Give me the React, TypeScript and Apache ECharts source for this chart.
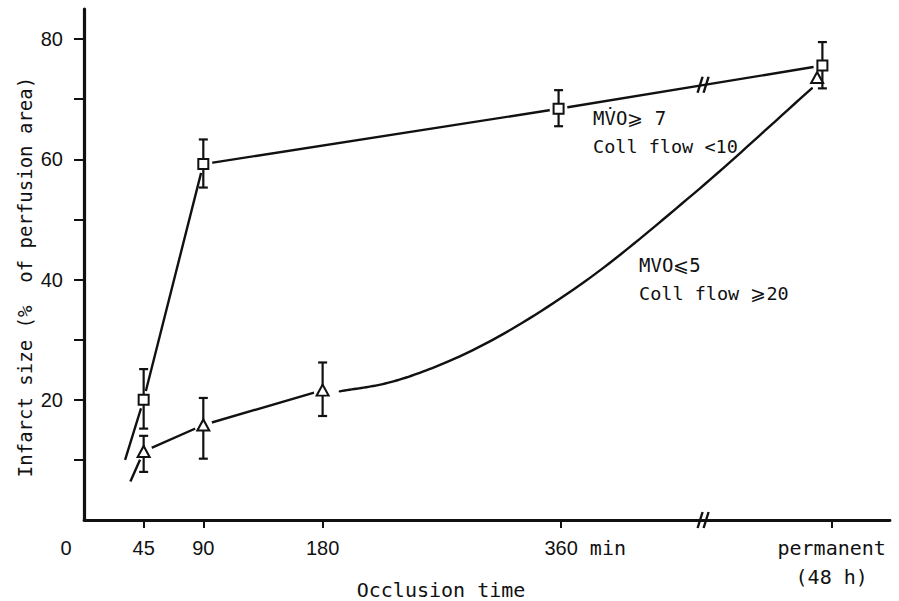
import React, { useEffect, useRef } from "react";
import * as echarts from "echarts";

const MONO = '"DejaVu Sans Mono", "Liberation Mono", monospace';
const NUM = '"Liberation Sans", "DejaVu Sans", sans-serif';
const INK = "#111111";

// x positions in minutes; "permanent" is plotted beyond the axis break
const xTickValues = [45, 90, 180, 360, 564];
const xLabelValues = [0, 45, 90, 180, 360, 564];
const xLabelTexts: Record<number, string> = {
  0: "{z|0}",
  45: "{n|45}",
  90: "{n|90}",
  180: "{n|180}",
  360: "{m|360}{w| min}",
  564: "{w|permanent}\n{p|(48 h)}",
};
const yTickValues = [10, 20, 30, 40, 50, 60, 70, 80];
const yLabelValues = [20, 40, 60, 80];

// MVO >= 7, coll flow < 10 (squares)
const sqX = [45, 90, 358, 557];
const sqY = [20, 59.2, 68.4, 75.6];
const sqLo = [15.2, 55.3, 65.5, 71.8];
const sqHi = [25.1, 63.3, 71.5, 79.5];
const sqLineStart = [31, 10];

// MVO <= 5, coll flow >= 20 (triangles)
const triX = [45, 90, 180, 553];
const triY = [11.4, 15.8, 21.6, 73.6];
const triLo = [8.0, 10.2, 17.3];
const triHi = [14.0, 20.3, 26.2];
const triLineStart = [35, 6.4];
const triCurveX = [193, 229, 274, 369, 460, 549];
const triCurveY = [21.4, 22.8, 26.3, 38.3, 54.3, 71.8];

// axis / line break marks
const breaks = [
  [467, 72.4],
  [467, 0],
];

// smooth Hermite curve through pixel points
function smoothPath(pts: number[][]): number[][] {
  const n = pts.length;
  const h: number[] = [];
  const d: number[] = [];
  for (let i = 0; i < n - 1; i++) {
    h.push(pts[i + 1][0] - pts[i][0]);
    d.push((pts[i + 1][1] - pts[i][1]) / h[i]);
  }
  const m: number[] = [];
  for (let i = 0; i < n; i++) {
    if (i === 0) m.push(d[0]);
    else if (i === n - 1) m.push(d[n - 2]);
    else m.push((d[i - 1] * h[i] + d[i] * h[i - 1]) / (h[i - 1] + h[i]));
  }
  const out: number[][] = [];
  for (let i = 0; i < n - 1; i++) {
    const steps = 20;
    for (let s = 0; s <= steps; s++) {
      if (i > 0 && s === 0) continue;
      const t = s / steps;
      const t2 = t * t;
      const t3 = t2 * t;
      const h00 = 2 * t3 - 3 * t2 + 1;
      const h10 = t3 - 2 * t2 + t;
      const h01 = -2 * t3 + 3 * t2;
      const h11 = t3 - t2;
      const x = pts[i][0] + t * h[i];
      const y = h00 * pts[i][1] + h10 * h[i] * m[i] + h01 * pts[i + 1][1] + h11 * h[i] * m[i + 1];
      out.push([x, y]);
    }
  }
  return out;
}

export default function App() {
  const ref = useRef<HTMLDivElement>(null);
  useEffect(() => {
    document.body.style.margin = "0";
    const chart = echarts.init(ref.current!, null, { renderer: "svg" });

    const sqPts = sqX.map((x, i) => [x, sqY[i]]);
    const triPts = triX.map((x, i) => [x, triY[i]]);
    const sqLine = [sqLineStart, ...sqPts];
    const triLine = [triLineStart, ...triPts.slice(0, 3)];
    const triCurve = triCurveX.map((x, i) => [x, triCurveY[i]]);
    const errData = [
      ...sqX.map((x, i) => [x, sqLo[i], sqHi[i]]),
      ...triLo.map((lo, i) => [triX[i], lo, triHi[i]]),
    ];

    const lineStyle = { color: INK, width: 2.4 };
    const txt = (text: string, x: number, y: number, size: number, align = "left") => ({
      type: "text",
      x,
      y,
      style: {
        text,
        fontFamily: MONO,
        fontSize: size,
        fill: INK,
        align,
        verticalAlign: "middle",
      },
    });

    chart.setOption({
      animation: false,
      backgroundColor: "#ffffff",
      grid: { left: 84, right: 9, top: 9, bottom: 81, containLabel: false },
      xAxis: {
        type: "value",
        min: 0,
        max: 608,
        axisLine: { show: true, onZero: false, lineStyle: { color: INK, width: 2.8 } },
        splitLine: { show: false },
        axisTick: {
          show: true,
          inside: false,
          length: 8,
          customValues: xTickValues,
          lineStyle: { color: INK, width: 2 },
        },
        axisLabel: {
          show: true,
          margin: 13,
          customValues: xLabelValues,
          formatter: (v: number) => xLabelTexts[v] ?? "",
          color: INK,
          fontFamily: NUM,
          fontSize: 20,
          lineHeight: 29,
          rich: {
            z: { fontFamily: NUM, fontSize: 20, color: INK, padding: [0, 36, 0, 0] },
            n: { fontFamily: NUM, fontSize: 20, color: INK },
            m: { fontFamily: NUM, fontSize: 20, color: INK, padding: [0, 0, 0, 48] },
            w: { fontFamily: MONO, fontSize: 20, color: INK, lineHeight: 29 },
            p: { fontFamily: MONO, fontSize: 20, color: INK, lineHeight: 29 },
          },
        },
      },
      yAxis: {
        type: "value",
        min: 0,
        max: 85,
        axisLine: { show: true, onZero: false, lineStyle: { color: INK, width: 3.2 } },
        splitLine: { show: false },
        axisTick: {
          show: true,
          length: 10,
          customValues: yTickValues,
          lineStyle: { color: INK, width: 2 },
        },
        axisLabel: {
          show: true,
          margin: 21,
          customValues: yLabelValues,
          color: INK,
          fontFamily: NUM,
          fontSize: 20,
        },
      },
      graphic: [
        txt("Occlusion time", 441, 590, 20, "center"),
        {
          type: "text",
          x: 25,
          y: 277,
          rotation: Math.PI / 2,
          style: {
            text: "Infarct size (%  of perfusion area)",
            fontFamily: MONO,
            fontSize: 19,
            fill: INK,
            align: "center",
            verticalAlign: "middle",
          },
        },
        txt("MV\u0307O\u2A7E 7", 593, 118, 19),
        txt("Coll flow <10", 593, 146, 18.5),
        txt("MVO\u2A7D5", 639, 265, 19),
        txt("Coll flow \u2A7E20", 639, 293, 18.5),
      ],
      series: [
        { type: "line", data: sqLine, symbol: "none", lineStyle, z: 2, silent: true },
        { type: "line", data: triLine, symbol: "none", lineStyle, z: 2, silent: true },
        {
          type: "custom",
          data: triCurve,
          z: 2,
          silent: true,
          clip: false,
          encode: { x: 0, y: 1 },
          renderItem: (params: any, api: any) => {
            if (params.dataIndex !== 0) return null;
            const px = triCurve.map((p) => api.coord(p));
            return {
              type: "polyline",
              shape: { points: smoothPath(px) },
              style: { stroke: INK, lineWidth: 2.4, fill: "none", lineJoin: "round", lineCap: "round" },
            };
          },
        },
        {
          type: "scatter",
          data: [...sqPts, ...triPts],
          symbol: "circle",
          symbolSize: 18,
          itemStyle: { color: "#ffffff", opacity: 1 },
          z: 3,
          silent: true,
        },
        {
          type: "custom",
          data: errData,
          z: 4,
          clip: false,
          silent: true,
          encode: { x: 0, y: [1, 2] },
          renderItem: (params: any, api: any) => {
            const x = api.value(0);
            const p1 = api.coord([x, api.value(1)]);
            const p2 = api.coord([x, api.value(2)]);
            const w = 4.5;
            const st = { stroke: INK, lineWidth: 2.2 };
            return {
              type: "group",
              children: [
                { type: "line", shape: { x1: p1[0], y1: p1[1], x2: p2[0], y2: p2[1] }, style: st },
                { type: "line", shape: { x1: p1[0] - w, y1: p1[1], x2: p1[0] + w, y2: p1[1] }, style: st },
                { type: "line", shape: { x1: p2[0] - w, y1: p2[1], x2: p2[0] + w, y2: p2[1] }, style: st },
              ],
            };
          },
        },
        {
          type: "custom",
          data: breaks,
          z: 4,
          clip: false,
          silent: true,
          renderItem: (params: any, api: any) => {
            const c = api.coord([api.value(0), api.value(1)]);
            const st = { stroke: INK, lineWidth: 2.4 };
            const h = 8;
            const t = 2.5;
            return {
              type: "group",
              children: [-3, 3].map((dx) => ({
                type: "line",
                shape: { x1: c[0] + dx - t, y1: c[1] + h, x2: c[0] + dx + t, y2: c[1] - h },
                style: st,
              })),
            };
          },
        },
        {
          type: "scatter",
          data: sqPts,
          symbol: "rect",
          symbolSize: 10,
          itemStyle: { color: "#ffffff", borderColor: INK, borderWidth: 2, opacity: 1 },
          z: 5,
          silent: true,
        },
        {
          type: "scatter",
          data: triPts,
          symbol: "triangle",
          symbolSize: [12, 11],
          itemStyle: { color: "#ffffff", borderColor: INK, borderWidth: 2, opacity: 1 },
          z: 5,
          silent: true,
        },
      ],
    });
    return () => chart.dispose();
  }, []);
  return <div ref={ref} style={{ width: 899, height: 601 }} />;
}
